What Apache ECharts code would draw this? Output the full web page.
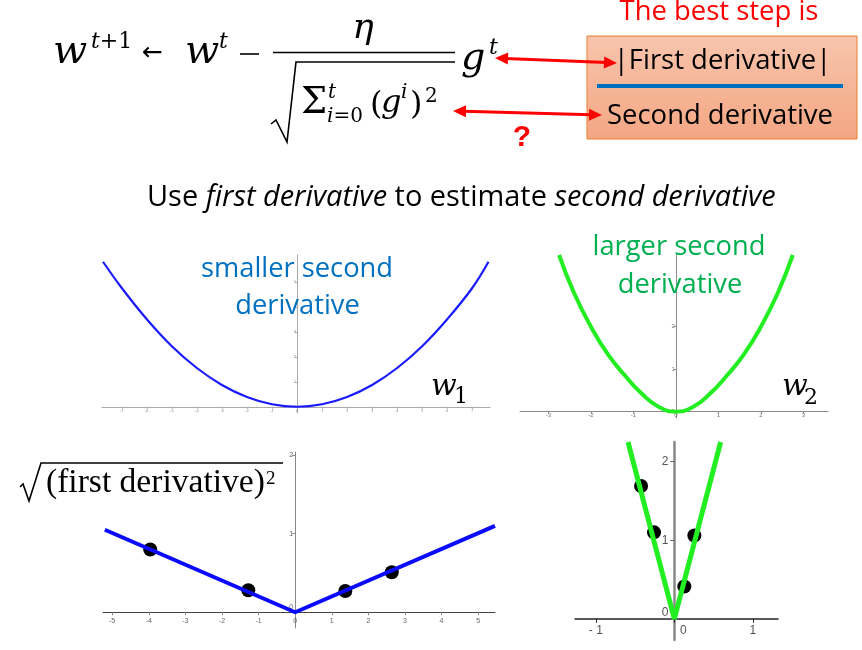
<!DOCTYPE html>
<html><head><meta charset="utf-8">
<script src="https://cdn.jsdelivr.net/npm/echarts@6/dist/echarts.min.js"></script>
<style>html,body{margin:0;padding:0;background:#fff}#c{width:862px;height:650px}</style>
</head><body><div id="c"></div>
<script>
// ---------- data ----------
// panel 1: smaller second derivative (w1)
const p1Curve = [[-7.75,5.8],[-7,4.75],[-6,3.5],[-5,2.42],[-4,1.55],[-3,0.87],[-2,0.39],[-1,0.1],[0,0],[1,0.1],[2,0.39],[3,0.87],[4,1.55],[5,2.42],[6,3.5],[7,4.75],[7.65,5.8]];
const p1XTicks = [-7,-6,-5,-4,-3,-2,-1,0,1,2,3,4,5,6,7];
const p1YTicks = [0,1,2,3,4,5];
// panel 2: larger second derivative (w2)
const p2Curve = [[-2.75,3.69],[-2.4,2.8],[-2.0,2.0],[-1.6,1.35],[-1.2,0.85],[-0.8,0.42],[-0.4,0.11],[0,0],[0.4,0.11],[0.8,0.42],[1.2,0.85],[1.6,1.35],[2.0,2.0],[2.4,2.8],[2.75,3.69]];
const p2XTicks = [-3,-2,-1,0,1,2,3];
const p2YTicks = [0,1,2];
// panel 3: sqrt((first derivative)^2), small
const p3Line = [[-5.2,1.05],[0,0],[5.46,1.1]];
const p3Dots = [[-3.96,0.80],[-1.28,0.28],[1.37,0.27],[2.64,0.51]];
const p3XTicks = [-5,-4,-3,-2,-1,0,1,2,3,4,5];
const p3YTicks = [0,1,2];
// panel 4: sqrt((first derivative)^2), large
const p4Line = [[-0.59,2.25],[0,0],[0.59,2.25]];
const p4Dots = [[-0.424,1.69],[-0.259,1.10],[0.255,1.06],[0.127,0.41]];
const p4XTicks = [-1,0,1];
const p4YTicks = [0,1,2];

// ---------- helpers ----------
const mctx = document.createElement('canvas').getContext('2d');
function fit(parts, W){ let w=0; parts.forEach(p=>{mctx.font=p[1](100); w+=mctx.measureText(p[0]).width;}); return 100*W/w; }
const SANS = '"Open Sans"';
const sansF = (st)=> (s)=> st+' '+s+'px '+SANS;
const BLUE='#0070c0', GREEN='#00b050', RED='#ff0000';

function txt(t, x, base, size, font, fill, align, extra){
  return {type:'text', x:x, y:base-0.31*size, z:100, silent:true,
    style:Object.assign({text:t, font:font, fill:fill||'#000', align:align||'left', verticalAlign:'middle'}, extra||{})};
}
function ln(x1,y1,x2,y2,c,w){ return {type:'line', z:100, silent:true, shape:{x1,y1,x2,y2}, style:{stroke:c,lineWidth:w}}; }
function pl(pts,c,w){ return {type:'polyline', z:100, silent:true, shape:{points:pts}, style:{stroke:c,lineWidth:w,fill:null}}; }
function arrow2(x1,y1,x2,y2,c,w,L,H){
  const dx=x2-x1, dy=y2-y1, d=Math.hypot(dx,dy), ux=dx/d, uy=dy/d, nx=-uy, ny=ux;
  const out=[ln(x1+ux*L*0.8,y1+uy*L*0.8,x2-ux*L*0.8,y2-uy*L*0.8,c,w)];
  out.push({type:'polygon',z:100,silent:true,shape:{points:[[x1,y1],[x1+ux*L+nx*H,y1+uy*L+ny*H],[x1+ux*L-nx*H,y1+uy*L-ny*H]]},style:{fill:c}});
  out.push({type:'polygon',z:100,silent:true,shape:{points:[[x2,y2],[x2-ux*L+nx*H,y2-uy*L+ny*H],[x2-ux*L-nx*H,y2-uy*L-ny*H]]},style:{fill:c}});
  return out;
}

// grids and ranges
const grids = [
  {left:102,top:255,width:388,height:158},
  {left:520,top:255,width:308,height:163},
  {left:103,top:452,width:392,height:176},
  {left:575,top:442,width:203,height:198}
];
const xr = [[-7.79,7.71],[-3.67,3.58],[-5.25,5.46],[-1.265,1.32]];
const yr = [[-0.25,6.07],[-0.15,3.69],[-0.2,2.04],[-0.27,2.25]];
function offs(i){
  const g=grids[i];
  const xpx = g.left + (0-xr[i][0])/(xr[i][1]-xr[i][0])*g.width;
  const ypx = g.top + g.height - (0-yr[i][0])/(yr[i][1]-yr[i][0])*g.height;
  return {y:-(xpx-g.left), x:-(g.top+g.height-ypx)};
}

function axis(dim, gi, ticks, s){
  const o = offs(gi);
  const r = dim==='x' ? xr[gi] : yr[gi];
  return {type:'value', gridIndex:gi, min:r[0], max:r[1],
    position: dim==='x' ? 'bottom' : 'left', offset: dim==='x' ? o.x : o.y,
    axisLine:{show:true, onZero:false, lineStyle:{color:s.lc, width:s.lw}},
    axisTick:{show:true, customValues:ticks, length:s.tl, lineStyle:{color:s.tc||s.lc, width:1}},
    axisLabel:{show:true, customValues:ticks, fontSize:s.fs, color:s.fc, margin:s.m, fontFamily:'Liberation Sans', formatter:s.fmt||(v=>String(v)), rich:s.rich||{}},
    splitLine:{show:false}};
}

// ---------- fonts sized to match widths ----------
const boxSize = fit([['Second derivative', sansF('normal')]], 226);
const midParts = [['Use ',sansF('normal')],['first derivative',sansF('italic')],[' to estimate ',sansF('normal')],['second derivative',sansF('italic')]];
const midSize = fit(midParts, 629);
const panSize = fit([['derivative', sansF('normal')]], 124.5);
const fdSize = fit([['(first derivative)', s=>s+'px "Liberation Serif"']], 219);

const MI = s=>'italic '+s+'px "DejaVu Serif"';
const MN = s=>s+'px "DejaVu Serif"';

const G = [];
// formula
G.push(txt('w',53,65,40,MI(40)));
G.push(txt('{i|t}{n|+1}',91,49,22,MI(22),'#000','left',{rich:{i:{font:MI(22)},n:{font:MN(22)}}}));
G.push({type:'text',x:142,y:53,z:100,silent:true,style:{text:'←',font:'25px "DejaVu Sans"',fill:'#000',align:'left',verticalAlign:'middle'}});
G.push(txt('w',185,65,40,MI(40)));
G.push(txt('t',219,49,22,MI(22)));
G.push(ln(240,54,259,54,'#000',1.6));
G.push(ln(273,52.5,455,52.5,'#000',1.6));
G.push(txt('η',363,40,36,MI(36),'#000','center'));
G.push(pl([[271,124],[276,120],[287,142],[296,62],[455,62]],'#000',1.6));
G.push(txt('Σ',301,115,37,MN(37)));
G.push(txt('t',328,99,20,MI(20)));
G.push(txt('{i|i}{n|=0}',327,123,20,MI(20),'#000','left',{rich:{i:{font:MI(20)},n:{font:MN(20)}}}));
G.push(txt('(',370,116,32,MN(32)));
G.push(txt('g',381,114,32,MI(32)));
G.push(txt('i',401,99,20,MI(20)));
G.push(txt(')',410,116,32,MN(32)));
G.push(txt('2',425,103,20,MN(20)));
G.push(txt('g',461,71,38,MI(38)));
G.push(txt('t',489,55,22,MI(22)));
// red arrows and question mark
arrow2(495,58,617,63,RED,3,13,6).forEach(e=>G.push(e));
arrow2(453,111,602,115,RED,3,13,6).forEach(e=>G.push(e));
G.push(txt('?',522,147,30,'bold 30px "Liberation Sans"',RED,'center'));
// box
G.push({type:'rect',z:90,silent:true,shape:{x:587,y:36,width:270,height:103},
  style:{fill:new echarts.graphic.LinearGradient(0,0,0,1,[{offset:0,color:'#f7c5ad'},{offset:1,color:'#f4a683'}]),stroke:'#ed7d31',lineWidth:1}});
G.push(ln(597,86,843,86,BLUE,4));
G.push(txt('The best step is',719,21,boxSize,sansF('normal')(boxSize),RED,'center'));
G.push(txt('|First derivative|',722.5,70,boxSize,sansF('normal')(boxSize),'#000','center'));
G.push(txt('Second derivative',720,125,boxSize,sansF('normal')(boxSize),'#000','center'));
// middle line
G.push(txt('{n|Use }{i|first derivative}{n| to estimate }{i|second derivative}',147,207,midSize,sansF('normal')(midSize),'#000','left',
  {rich:{n:{font:sansF('normal')(midSize)},i:{font:sansF('italic')(midSize)}}}));
// panel captions
G.push(txt('smaller second',297,278,panSize,sansF('normal')(panSize),BLUE,'center'));
G.push(txt('derivative',297.5,315,panSize,sansF('normal')(panSize),BLUE,'center'));
G.push(txt('larger second',679,256,panSize,sansF('normal')(panSize),GREEN,'center'));
G.push(txt('derivative',680,294,panSize,sansF('normal')(panSize),GREEN,'center'));
G.push(txt('w',431,397,30,MI(30)));
G.push(txt('1',454,404,22,MN(22)));
G.push(txt('w',782,397,30,MI(30)));
G.push(txt('2',804,405,22,MN(22)));
// sqrt label
G.push(pl([[20,487],[23,484],[29,501],[41,463],[283,463]],'#000',1.6));
G.push(txt('(first derivative)',46,494,fdSize,fdSize+'px "Liberation Serif"','#000'));
G.push(txt('2',266,485,19,'19px "Liberation Serif"','#000'));

const st1 = {lc:'#aaaaaa',lw:1,tl:2,fs:4,fc:'#888',m:2};
const st1y = {lc:'#aaaaaa',lw:1,tl:2,fs:4,fc:'#888',m:1};
const st2 = {lc:'#8a8a8a',lw:1,tl:2,fs:6,fc:'#777',m:1};
const st3x = {lc:'#444',lw:1,tl:3,fs:7,fc:'#666',m:5,tc:'#888'};
const st3y = {lc:'#888',lw:1,tl:3,fs:7,fc:'#666',m:2,
  fmt:v=> v===0 ? '{z|0}' : String(v), rich:{z:{padding:[0,0,10,0],fontSize:7,color:'#666'}}};
const st4x = {lc:'#222',lw:1.5,tl:4,fs:12,fc:'#555',m:6,
  fmt:v=> v===0 ? '{z|0}' : (v<0 ? '- '+(-v) : String(v)), rich:{z:{padding:[0,0,0,18],fontSize:12,color:'#555'}}};
const st4y = {lc:'#888',lw:2.5,tl:4,fs:12,fc:'#555',m:6,tc:'#666',
  fmt:v=> v===0 ? '{z|0}' : String(v), rich:{z:{padding:[0,0,12,0],fontSize:12,color:'#555'}}};

const option = {
  animation:false,
  backgroundColor:'#fff',
  grid: grids.map(g=>Object.assign({containLabel:false, outerBoundsMode:'none'}, g)),
  xAxis:[
    axis('x',0,p1XTicks,st1),
    axis('x',1,p2XTicks,st2),
    axis('x',2,p3XTicks,st3x),
    axis('x',3,p4XTicks,st4x)
  ],
  yAxis:[
    axis('y',0,p1YTicks,st1y),
    axis('y',1,p2YTicks,st2),
    axis('y',2,p3YTicks,st3y),
    axis('y',3,p4YTicks,st4y)
  ],
  series:[
    {type:'line',xAxisIndex:0,yAxisIndex:0,data:p1Curve,smooth:0.4,showSymbol:false,silent:true,lineStyle:{color:'#1a1aff',width:2.2}},
    {type:'line',xAxisIndex:1,yAxisIndex:1,data:p2Curve,smooth:0.5,showSymbol:false,silent:true,lineStyle:{color:'#22ee22',width:4}},
    {type:'line',xAxisIndex:2,yAxisIndex:2,data:p3Line,showSymbol:false,silent:true,lineStyle:{color:'#0a0aff',width:4}},
    {type:'scatter',xAxisIndex:2,yAxisIndex:2,data:p3Dots,symbolSize:14,silent:true,itemStyle:{color:'#000',opacity:1}},
    {type:'line',xAxisIndex:3,yAxisIndex:3,data:p4Line,showSymbol:false,silent:true,lineStyle:{color:'#22ee22',width:5}},
    {type:'scatter',xAxisIndex:3,yAxisIndex:3,data:p4Dots,symbolSize:14,silent:true,itemStyle:{color:'#000',opacity:1}}
  ],
  graphic:{elements:G}
};
const chart = echarts.init(document.getElementById('c'), null, {renderer:'canvas'});
chart.setOption(option);
</script>
</body></html>
